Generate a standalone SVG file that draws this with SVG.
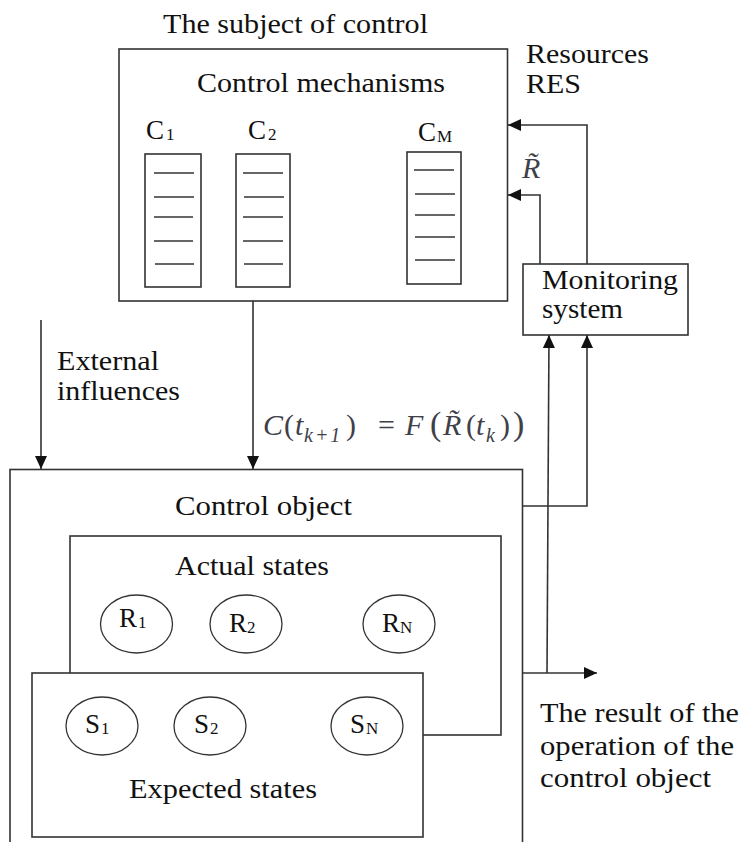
<svg xmlns="http://www.w3.org/2000/svg" width="743" height="842" viewBox="0 0 743 842">
<style>
  .box { fill: #ffffff; stroke: #333333; stroke-width: 1.6; }
  .ln { fill: none; stroke: #333333; stroke-width: 1.6; }
  .bar { stroke: #333333; stroke-width: 1.5; }
  .ell { fill: #ffffff; stroke: #333333; stroke-width: 1.3; }
  .t { font-size: 28px; fill: #111111; }
  .s { font-size: 27px; fill: #111111; }
  .sub { font-size: 17px; }
  .m { font-style: italic; font-size: 30px; fill: #404048; }
  .up { font-style: normal; }
  .ms { font-size: 20px; }
</style>
<defs>
  <marker id="ah" markerUnits="userSpaceOnUse" markerWidth="14" markerHeight="12" refX="13" refY="6" orient="auto">
    <path d="M0,0 L13,6 L0,12 Z" fill="#111111"/>
  </marker>
</defs>
<rect width="743" height="842" fill="#ffffff"/>
<g font-family="Liberation Serif, DejaVu Serif, serif">

<text class="t" x="163" y="33" textLength="265" lengthAdjust="spacingAndGlyphs">The subject of control</text>

<g id="subject">
  <rect class="box" x="119" y="49" width="388.5" height="252"/>
  <text class="t" x="197" y="92" textLength="248" lengthAdjust="spacingAndGlyphs">Control mechanisms</text>
</g>

<g id="c1">
  <text class="s" x="146" y="139">C<tspan class="sub" x="166" dy="1">1</tspan></text>
  <rect class="box" x="145" y="154" width="56" height="133"/>
  <line class="bar" x1="154" y1="173" x2="194" y2="173"/>
  <line class="bar" x1="154" y1="197" x2="194" y2="197"/>
  <line class="bar" x1="154" y1="217" x2="193" y2="217"/>
  <line class="bar" x1="154" y1="241" x2="193" y2="241"/>
  <line class="bar" x1="155" y1="264" x2="194" y2="264"/>
</g>
<g id="c2">
  <text class="s" x="248" y="139">C<tspan class="sub" x="268" dy="1">2</tspan></text>
  <rect class="box" x="236" y="154" width="54" height="133"/>
  <line class="bar" x1="243" y1="173" x2="283" y2="173"/>
  <line class="bar" x1="244" y1="197" x2="284" y2="197"/>
  <line class="bar" x1="243" y1="217" x2="283" y2="217"/>
  <line class="bar" x1="243" y1="241" x2="283" y2="241"/>
  <line class="bar" x1="244" y1="264" x2="283" y2="264"/>
</g>
<g id="cm">
  <text class="s" x="418" y="141">C<tspan class="sub" x="437" dy="1" font-size="20">M</tspan></text>
  <rect class="box" x="407" y="152" width="54" height="132"/>
  <line class="bar" x1="414" y1="170" x2="454" y2="170"/>
  <line class="bar" x1="415" y1="194" x2="455" y2="194"/>
  <line class="bar" x1="415" y1="215" x2="455" y2="215"/>
  <line class="bar" x1="415" y1="237" x2="455" y2="237"/>
  <line class="bar" x1="415" y1="260" x2="455" y2="260"/>
</g>

<g id="resources-label">
  <text class="t" x="526" y="63" textLength="123" lengthAdjust="spacingAndGlyphs">Resources</text>
  <text class="t" x="526" y="93" textLength="55" lengthAdjust="spacingAndGlyphs">RES</text>
</g>

<g id="rtilde-label">
  <text class="m" x="522" y="178" font-size="26">R̃</text>
</g>

<g id="monitoring">
  <rect class="box" x="523" y="264" width="165" height="71"/>
  <text class="t" x="542" y="289" textLength="136" lengthAdjust="spacingAndGlyphs">Monitoring</text>
  <text class="t" x="542" y="318" textLength="81" lengthAdjust="spacingAndGlyphs">system</text>
</g>

<g id="external-label">
  <text class="t" x="57" y="370" textLength="102" lengthAdjust="spacingAndGlyphs">External</text>
  <text class="t" x="57" y="400" textLength="123" lengthAdjust="spacingAndGlyphs">influences</text>
</g>

<g id="formula">
  <text class="m" y="435"><tspan x="263">C</tspan><tspan x="284" class="up">(</tspan><tspan x="295">t</tspan><tspan x="304" y="442" class="ms" letter-spacing="2">k+1</tspan><tspan x="346" y="435" class="up">)</tspan><tspan x="378" class="up">=</tspan><tspan x="405">F</tspan><tspan x="430" class="up" font-size="34">(</tspan><tspan x="443">R̃</tspan><tspan x="466" class="up">(</tspan><tspan x="476">t</tspan><tspan x="486" y="442" class="ms">k</tspan><tspan x="500" y="435" class="up">)</tspan><tspan x="513" class="up" font-size="34">)</tspan></text>
</g>

<g id="control-object">
  <rect class="box" x="10" y="469.5" width="512.5" height="400"/>
  <text class="t" x="175" y="515" textLength="177" lengthAdjust="spacingAndGlyphs">Control object</text>
</g>

<g id="actual-states">
  <rect class="box" x="70" y="536" width="431" height="199"/>
  <text class="t" x="175" y="575" textLength="154" lengthAdjust="spacingAndGlyphs">Actual states</text>
</g>
<g id="r1">
  <ellipse class="ell" cx="136.5" cy="624" rx="36" ry="29"/>
  <text class="s" x="119" y="627">R<tspan class="sub" x="138" dy="1">1</tspan></text>
</g>
<g id="r2">
  <ellipse class="ell" cx="246" cy="624" rx="36" ry="29"/>
  <text class="s" x="229" y="632">R<tspan class="sub" x="247" dy="1">2</tspan></text>
</g>
<g id="rn">
  <ellipse class="ell" cx="399" cy="624" rx="36" ry="29"/>
  <text class="s" x="382" y="632">R<tspan class="sub" x="400" dy="1">N</tspan></text>
</g>

<g id="expected-states">
  <rect class="box" x="32" y="673" width="391" height="164"/>
  <text class="t" x="129" y="798" textLength="188" lengthAdjust="spacingAndGlyphs">Expected states</text>
</g>
<g id="s1">
  <ellipse class="ell" cx="102" cy="726" rx="36" ry="29"/>
  <text class="s" x="85" y="733">S<tspan class="sub" x="101" dy="1">1</tspan></text>
</g>
<g id="s2">
  <ellipse class="ell" cx="210" cy="726" rx="36" ry="29"/>
  <text class="s" x="194" y="733">S<tspan class="sub" x="210" dy="1">2</tspan></text>
</g>
<g id="sn">
  <ellipse class="ell" cx="367" cy="726" rx="36" ry="29"/>
  <text class="s" x="350" y="733">S<tspan class="sub" x="366" dy="1">N</tspan></text>
</g>

<g id="result-label">
  <text class="t" x="540" y="722" textLength="199" lengthAdjust="spacingAndGlyphs">The result of the</text>
  <text class="t" x="540" y="755" textLength="194" lengthAdjust="spacingAndGlyphs">operation of the</text>
  <text class="t" x="540" y="787" textLength="171" lengthAdjust="spacingAndGlyphs">control object</text>
</g>
</g>

<g id="connectors">
  <line class="ln" x1="41" y1="320" x2="41" y2="469" marker-end="url(#ah)"/>
  <line class="ln" x1="253" y1="301" x2="253" y2="469" marker-end="url(#ah)"/>
  <polyline class="ln" points="587,264 587,125 508,125" marker-end="url(#ah)"/>
  <polyline class="ln" points="540,264 540,195 508,195" marker-end="url(#ah)"/>
  <polyline class="ln" points="522.5,506 587,506 587,335" marker-end="url(#ah)"/>
  <line class="ln" x1="522.5" y1="673" x2="597" y2="673" marker-end="url(#ah)"/>
  <line class="ln" x1="547" y1="673" x2="549" y2="335" marker-end="url(#ah)"/>
</g>
</svg>
